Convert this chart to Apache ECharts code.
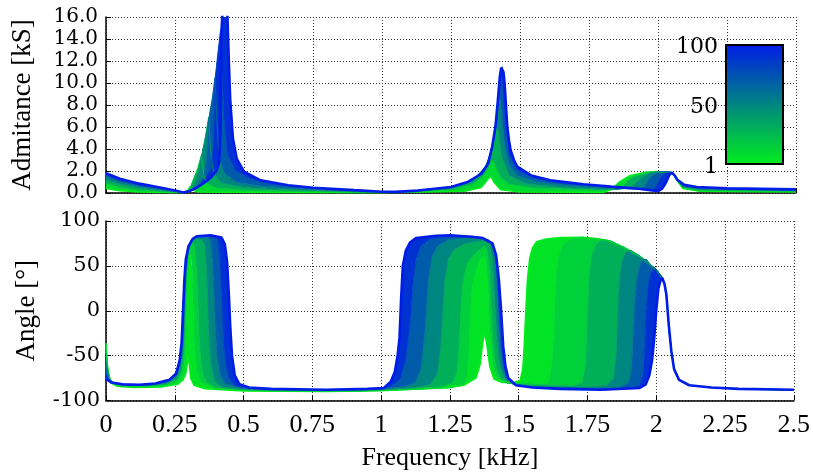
<!DOCTYPE html>
<html><head><meta charset="utf-8">
<script src="https://cdn.jsdelivr.net/npm/echarts@6/dist/echarts.min.js"></script>
<style>html,body{margin:0;padding:0;background:#fff}#c{width:813px;height:475px}</style>
</head><body><div id="c"></div>
<script>
// colour index of the representative curves (1 = green ... 100 = blue)
const admCurveK = [1, 20, 40, 60, 80, 100];
const angCurveK = [1, 10, 20, 40, 60, 80, 100];

// Admittance [kS] vs frequency [kHz]
const admK1 = [[0,0.4],[0.05,0.2],[0.12,0.1],[0.2,0.05],[0.28,0.02],[0.295,0.2],[0.305,0.6],[0.312,0.3],[0.33,0.1],[0.4,0.07],[0.6,0.05],[1.0,0.03],[1.3,0.15],[1.36,0.5],[1.385,1.3],[1.395,1.5],[1.405,1.0],[1.43,0.3],[1.5,0.1],[1.8,0.05],[1.83,0.3],[1.86,1.0],[1.9,1.6],[1.96,1.9],[2.0,1.95],[2.04,1.9],[2.055,1.8],[2.07,1.1],[2.09,0.4],[2.15,0.15],[2.5,0.1]];
const admK20 = [[0,0.9],[0.05,0.5],[0.12,0.25],[0.2,0.12],[0.28,0.04],[0.30,0.3],[0.305,0.5],[0.32,1.45],[0.333,2.3],[0.345,3.4],[0.35,2.4],[0.357,1.3],[0.37,0.8],[0.4,0.45],[0.5,0.25],[0.7,0.15],[0.95,0.06],[1.1,0.1],[1.25,0.3],[1.33,0.8],[1.37,1.6],[1.39,2.5],[1.40,3.0],[1.41,2.5],[1.43,1.4],[1.46,0.8],[1.55,0.45],[1.8,0.25],[1.87,0.6],[1.91,1.5],[1.96,1.85],[2.0,1.95],[2.05,1.88],[2.07,1.15],[2.09,0.5],[2.15,0.25],[2.5,0.15]];
const admK40 = [[0,1.2],[0.05,0.8],[0.12,0.45],[0.2,0.22],[0.28,0.05],[0.30,0.15],[0.32,0.8],[0.335,2.0],[0.345,3.25],[0.36,5.1],[0.372,6.9],[0.377,4.6],[0.385,2.4],[0.40,1.4],[0.42,0.9],[0.5,0.5],[0.6,0.33],[0.75,0.22],[0.95,0.08],[1.1,0.12],[1.25,0.4],[1.33,1.0],[1.37,2.0],[1.395,3.8],[1.408,5.6],[1.415,6.5],[1.422,5.5],[1.435,3.2],[1.46,1.6],[1.52,0.85],[1.65,0.5],[1.85,0.3],[1.9,0.5],[1.935,1.3],[1.97,1.85],[2.0,1.95],[2.05,1.88],[2.07,1.15],[2.09,0.55],[2.15,0.3],[2.5,0.2]];
const admK60 = [[0,1.45],[0.05,1.0],[0.12,0.6],[0.2,0.32],[0.28,0.06],[0.30,0.12],[0.33,0.6],[0.355,1.6],[0.365,3.0],[0.372,6.7],[0.385,8.6],[0.395,10.5],[0.40,7.5],[0.407,4.2],[0.418,2.5],[0.43,1.8],[0.47,1.0],[0.55,0.65],[0.7,0.38],[0.85,0.22],[1.0,0.08],[1.1,0.15],[1.25,0.48],[1.33,1.2],[1.38,2.5],[1.40,4.2],[1.413,6.5],[1.425,9.0],[1.432,7.5],[1.442,4.8],[1.46,2.6],[1.49,1.6],[1.56,1.0],[1.7,0.62],[1.85,0.42],[1.93,0.35],[1.95,0.6],[1.97,1.4],[1.995,1.9],[2.03,1.95],[2.05,1.88],[2.07,1.18],[2.09,0.6],[2.15,0.38],[2.5,0.27]];
const admK80 = [[0,1.65],[0.05,1.2],[0.12,0.75],[0.2,0.42],[0.28,0.07],[0.30,0.12],[0.33,0.55],[0.36,1.35],[0.38,2.2],[0.39,4.5],[0.395,10.3],[0.405,12.6],[0.415,14.8],[0.42,11],[0.428,6.5],[0.44,3.5],[0.47,2.0],[0.52,1.3],[0.6,0.85],[0.7,0.58],[0.85,0.32],[1.0,0.1],[1.1,0.18],[1.25,0.55],[1.32,1.05],[1.37,2.0],[1.40,4.0],[1.415,6.5],[1.425,9.5],[1.43,10.8],[1.437,9.5],[1.447,6.0],[1.46,3.6],[1.49,2.1],[1.55,1.35],[1.65,0.9],[1.8,0.6],[1.93,0.4],[1.98,0.35],[1.995,0.7],[2.01,1.5],[2.03,1.92],[2.05,1.86],[2.07,1.2],[2.09,0.7],[2.15,0.48],[2.5,0.32]];
const admK100 = [[0,1.8],[0.05,1.3],[0.12,0.85],[0.2,0.48],[0.25,0.22],[0.28,0.05],[0.30,0.15],[0.33,0.5],[0.36,1.0],[0.38,1.4],[0.40,2.0],[0.41,2.8],[0.415,5.5],[0.418,14.6],[0.425,17.5],[0.435,20],[0.44,16],[0.445,12],[0.45,8.5],[0.46,4.9],[0.474,3.1],[0.5,1.95],[0.56,1.15],[0.66,0.7],[0.75,0.48],[0.9,0.26],[1.0,0.12],[1.05,0.1],[1.13,0.22],[1.25,0.55],[1.31,1.0],[1.36,1.75],[1.385,2.7],[1.399,4.2],[1.411,6],[1.42,8.5],[1.427,10.6],[1.432,11.4],[1.436,11.55],[1.44,11.0],[1.444,10],[1.449,8],[1.454,6],[1.46,4.8],[1.466,3.9],[1.478,3.0],[1.49,2.4],[1.54,1.6],[1.61,1.15],[1.73,0.8],[1.83,0.58],[1.93,0.38],[2.0,0.16],[2.015,0.4],[2.028,0.9],[2.04,1.6],[2.05,1.85],[2.06,1.6],[2.07,1.2],[2.095,0.75],[2.14,0.55],[2.25,0.42],[2.5,0.33]];

// Angle [deg] vs frequency [kHz]
const angK1 = [[0,-36],[0.005,-60],[0.015,-80],[0.04,-84],[0.1,-85.5],[0.2,-85],[0.26,-82],[0.28,-77],[0.29,-70],[0.296,-58],[0.299,-50],[0.302,-58],[0.308,-75],[0.32,-83],[0.36,-87],[0.5,-89.5],[0.8,-90],[1.0,-89],[1.2,-86],[1.3,-83],[1.345,-75],[1.36,-60],[1.37,-35],[1.376,-25],[1.383,-35],[1.395,-62],[1.41,-76],[1.44,-80],[1.48,-80],[1.505,-78],[1.515,-65],[1.52,-40],[1.526,0],[1.532,35],[1.54,58],[1.55,70],[1.565,77],[1.6,80],[1.65,81.5],[1.73,82],[1.78,80.5],[1.83,78],[1.88,71],[1.94,61],[1.98,51],[2.0,46],[2.022,37],[2.03,30],[2.037,18],[2.046,-17],[2.055,-45],[2.065,-65],[2.083,-77],[2.12,-83],[2.2,-85.5],[2.3,-87],[2.5,-88.5]];
const angK10 = [[0,-40],[0.006,-65],[0.018,-80],[0.05,-84],[0.12,-85],[0.2,-84.5],[0.26,-80],[0.278,-72],[0.286,-58],[0.29,-30],[0.293,10],[0.297,45],[0.302,60],[0.308,62],[0.313,45],[0.317,0],[0.321,-40],[0.33,-68],[0.345,-80],[0.4,-87],[0.6,-89.5],[0.9,-89.8],[1.1,-88],[1.25,-86],[1.3,-83],[1.312,-74],[1.32,-45],[1.325,0],[1.332,28],[1.345,45],[1.36,56],[1.372,62],[1.38,57],[1.387,30],[1.392,0],[1.398,-35],[1.407,-60],[1.42,-74],[1.45,-80],[1.5,-80.5],[1.6,-82],[1.61,-78],[1.622,-55],[1.63,0],[1.636,40],[1.645,62],[1.66,74],[1.69,80],[1.73,82],[1.78,80.5],[1.83,78],[1.88,71],[1.94,61],[1.98,51],[2.0,46],[2.022,37],[2.03,30],[2.037,18],[2.046,-17],[2.055,-45],[2.065,-65],[2.083,-77],[2.12,-83],[2.2,-85.5],[2.3,-87],[2.5,-88.4]];
const angK20 = [[0,-45],[0.008,-70],[0.02,-80],[0.06,-83.5],[0.15,-84],[0.22,-82],[0.26,-77],[0.275,-68],[0.282,-55],[0.286,-40],[0.289,0],[0.293,45],[0.30,68],[0.31,76],[0.322,72],[0.33,40],[0.335,0],[0.34,-40],[0.35,-68],[0.365,-80],[0.4,-86],[0.6,-89],[0.9,-89.5],[1.1,-87],[1.22,-85],[1.262,-80],[1.277,-68],[1.285,-35],[1.29,0],[1.297,30],[1.31,50],[1.33,60],[1.355,67],[1.375,72],[1.385,68],[1.393,45],[1.40,0],[1.406,-35],[1.415,-60],[1.43,-74],[1.46,-81],[1.55,-82],[1.7,-83],[1.73,-80],[1.742,-60],[1.75,0],[1.756,40],[1.765,62],[1.78,74],[1.8,79],[1.83,78],[1.88,71],[1.94,61],[1.98,51],[2.0,46],[2.022,37],[2.03,30],[2.037,18],[2.046,-17],[2.055,-45],[2.065,-65],[2.083,-77],[2.12,-83],[2.2,-85.5],[2.3,-87],[2.5,-88.3]];
const angK40 = [[0,-55],[0.01,-75],[0.03,-81],[0.08,-83],[0.15,-83.5],[0.22,-81],[0.255,-75],[0.27,-65],[0.28,-45],[0.284,-20],[0.287,10],[0.292,45],[0.30,68],[0.315,78],[0.33,80],[0.35,79],[0.36,72],[0.366,40],[0.37,0],[0.375,-35],[0.382,-62],[0.395,-78],[0.42,-85],[0.5,-88],[0.8,-89],[1.0,-88],[1.12,-86],[1.18,-82],[1.205,-70],[1.217,-40],[1.225,0],[1.232,35],[1.245,58],[1.265,68],[1.3,74],[1.34,77],[1.37,78],[1.395,74],[1.405,55],[1.415,0],[1.422,-38],[1.432,-62],[1.45,-76],[1.48,-82],[1.55,-84],[1.75,-85],[1.82,-83],[1.845,-75],[1.855,-45],[1.86,0],[1.866,35],[1.875,55],[1.89,66],[1.91,67],[1.94,61],[1.98,51],[2.0,46],[2.022,37],[2.03,30],[2.037,18],[2.046,-17],[2.055,-45],[2.065,-65],[2.083,-77],[2.12,-83],[2.2,-85.5],[2.3,-87],[2.5,-88.2]];
const angK60 = [[0,-62],[0.01,-76],[0.03,-81],[0.08,-82.5],[0.15,-83],[0.22,-80],[0.255,-73],[0.268,-62],[0.278,-40],[0.282,-15],[0.285,10],[0.29,45],[0.298,66],[0.312,78],[0.33,82],[0.37,82],[0.38,78],[0.387,55],[0.393,15],[0.397,-20],[0.404,-52],[0.415,-72],[0.435,-82],[0.5,-87],[0.8,-88.5],[1.0,-87.5],[1.08,-85],[1.125,-80],[1.145,-65],[1.158,-30],[1.165,0],[1.172,35],[1.185,60],[1.205,72],[1.245,79],[1.3,81.5],[1.38,80],[1.405,75],[1.415,60],[1.42,35],[1.425,0],[1.432,-38],[1.44,-60],[1.455,-74],[1.485,-82],[1.55,-85],[1.8,-86.5],[1.87,-85],[1.9,-80],[1.91,-65],[1.915,-35],[1.92,0],[1.927,30],[1.937,48],[1.95,57],[1.965,57],[1.98,51],[2.0,46],[2.022,37],[2.03,30],[2.037,18],[2.046,-17],[2.055,-45],[2.065,-65],[2.083,-77],[2.12,-83],[2.2,-85.5],[2.3,-87],[2.5,-88]];
const angK80 = [[0,-70],[0.015,-79],[0.04,-81.5],[0.1,-82.5],[0.16,-82],[0.22,-79],[0.25,-72],[0.265,-60],[0.275,-38],[0.28,-10],[0.284,20],[0.289,50],[0.297,68],[0.31,79],[0.33,83],[0.39,83],[0.405,79],[0.412,62],[0.418,25],[0.422,0],[0.427,-35],[0.436,-62],[0.448,-76],[0.47,-84],[0.55,-87],[0.8,-88],[1.0,-87],[1.04,-84],[1.07,-76],[1.09,-55],[1.102,-25],[1.11,0],[1.116,30],[1.128,58],[1.145,72],[1.18,80],[1.25,83],[1.35,82],[1.39,79],[1.41,70],[1.42,50],[1.43,0],[1.437,-38],[1.446,-62],[1.458,-75],[1.488,-83],[1.55,-85.5],[1.8,-87.5],[1.92,-86],[1.94,-82],[1.952,-70],[1.958,-40],[1.963,0],[1.97,28],[1.98,42],[1.99,46],[2.0,46],[2.022,37],[2.03,30],[2.037,18],[2.046,-17],[2.055,-45],[2.065,-65],[2.083,-77],[2.12,-83],[2.2,-85.5],[2.3,-87],[2.5,-88]];
const angK100 = [[0,-76],[0.02,-80],[0.06,-82],[0.12,-82.5],[0.18,-81],[0.23,-77],[0.255,-70],[0.268,-55],[0.275,-35],[0.28,0],[0.285,35],[0.29,57],[0.30,72],[0.315,80],[0.33,83],[0.38,84],[0.42,81.5],[0.432,74],[0.44,55],[0.447,15],[0.452,-20],[0.458,-50],[0.468,-72],[0.485,-82],[0.52,-85.5],[0.6,-87],[0.8,-88],[0.95,-87],[1.01,-86],[1.035,-79],[1.05,-68],[1.06,-50],[1.067,-30],[1.073,15],[1.079,50],[1.09,67],[1.105,76],[1.127,81],[1.2,83.5],[1.25,84],[1.33,82.5],[1.37,81],[1.405,75],[1.418,62],[1.428,35],[1.436,1],[1.444,-40],[1.452,-62],[1.462,-75],[1.49,-83],[1.55,-85.5],[1.65,-87],[1.8,-88],[1.94,-86],[1.962,-82],[1.975,-72],[1.985,-55],[1.993,-30],[2.0,0],[2.008,25],[2.015,33],[2.022,36.5],[2.03,30],[2.037,18],[2.046,-17],[2.055,-45],[2.065,-65],[2.083,-77],[2.12,-83],[2.2,-85.5],[2.3,-87],[2.5,-88]];

const colorbarLabels = ['100', '50', '1'];

const admCurves = [admK1, admK20, admK40, admK60, admK80, admK100];
const angCurves = [angK1, angK10, angK20, angK40, angK60, angK80, angK100];

const GREEN = [0, 238, 28], BLUE = [0, 28, 232];
function kColor(k) {
  const t = (k - 1) / 99;
  const c = GREEN.map((g, i) => Math.round(g + (BLUE[i] - g) * t));
  return 'rgb(' + c.join(',') + ')';
}

function bandSeries(curves, ks, idx) {
  return {
    type: 'custom', xAxisIndex: idx, yAxisIndex: idx, clip: true, silent: true, z: 2,
    data: curves.slice(1).map((c, i) => [i, 0]),
    renderItem: function (params, api) {
      const i = params.dataIndex;
      const A = curves[i], B = curves[i + 1];
      const pts = A.map(p => api.coord(p)).concat(B.slice().reverse().map(p => api.coord(p)));
      return { type: 'polygon', shape: { points: pts },
        style: { fill: kColor((ks[i] + ks[i + 1]) / 2), stroke: null } };
    }
  };
}
function lineSeries(curves, ks, idx) {
  return curves.map((c, i) => ({
    type: 'line', xAxisIndex: idx, yAxisIndex: idx, data: c, showSymbol: false, symbol: 'none',
    silent: true, z: 3, clip: true,
    lineStyle: { color: kColor(ks[i]), width: i === curves.length - 1 ? 2.6 : (i === 0 ? 1.5 : 1) }
  }));
}

const gridLine = { show: true, lineStyle: { color: '#333', width: 1, type: [1, 2] } };
const axLine = { show: true, onZero: false, lineStyle: { color: '#000', width: 1.5 } };
const axTick = { show: true, inside: true, length: 5, lineStyle: { color: '#000', width: 1 } };

const chart = echarts.init(document.getElementById('c'), null, { renderer: 'canvas' });
chart.setOption({
  animation: false,
  backgroundColor: '#fff',
  grid: [
    { left: 106, right: 17, top: 17, height: 176 },
    { left: 106, right: 17, top: 221, height: 179.5 }
  ],
  xAxis: [
    { gridIndex: 0, type: 'value', min: 0, max: 2.5, interval: 0.25,
      axisLabel: { show: false }, axisLine: axLine, axisTick: axTick, splitLine: gridLine },
    { gridIndex: 1, type: 'value', min: 0, max: 2.5, interval: 0.25,
      axisLabel: { color: '#000', fontFamily: 'Liberation Serif', fontSize: 26, margin: 12 },
      axisLine: axLine, axisTick: axTick, splitLine: gridLine,
      name: 'Frequency [kHz]', nameLocation: 'middle', nameGap: 45,
      nameTextStyle: { color: '#000', fontFamily: 'Liberation Serif', fontSize: 26 } }
  ],
  yAxis: [
    { gridIndex: 0, type: 'value', min: 0, max: 16, interval: 2,
      axisLabel: { color: '#000', fontFamily: 'DejaVu Serif', fontSize: 20, margin: 8,
        formatter: v => v.toFixed(1) },
      axisLine: axLine, axisTick: axTick, splitLine: gridLine,
      name: 'Admitance [kS]', nameLocation: 'middle', nameGap: 70,
      nameTextStyle: { color: '#000', fontFamily: 'Liberation Serif', fontSize: 27 } },
    { gridIndex: 1, type: 'value', min: -100, max: 100, interval: 50,
      axisLabel: { color: '#000', fontFamily: 'DejaVu Serif', fontSize: 21, margin: 6 },
      axisLine: axLine, axisTick: axTick, splitLine: gridLine,
      name: 'Angle [°]', nameLocation: 'middle', nameGap: 66,
      nameTextStyle: { color: '#000', fontFamily: 'Liberation Serif', fontSize: 27 } }
  ],
  graphic: [
    { type: 'rect', z: 100, shape: { x: 726, y: 45, width: 57, height: 119 },
      style: { fill: new echarts.graphic.LinearGradient(0, 0, 0, 1, [
        { offset: 0, color: kColor(100) }, { offset: 0.5, color: kColor(50) }, { offset: 1, color: kColor(1) }]),
        stroke: '#000', lineWidth: 2 } },
    { type: 'text', z: 100, x: 718, y: 47, style: { text: colorbarLabels[0], align: 'right', verticalAlign: 'middle', fontFamily: 'DejaVu Serif', fontSize: 22, fill: '#000' } },
    { type: 'text', z: 100, x: 718, y: 107, style: { text: colorbarLabels[1], align: 'right', verticalAlign: 'middle', fontFamily: 'DejaVu Serif', fontSize: 22, fill: '#000' } },
    { type: 'text', z: 100, x: 718, y: 167, style: { text: colorbarLabels[2], align: 'right', verticalAlign: 'middle', fontFamily: 'DejaVu Serif', fontSize: 22, fill: '#000' } }
  ],
  series: [bandSeries(admCurves, admCurveK, 0), ...lineSeries(admCurves, admCurveK, 0),
           bandSeries(angCurves, angCurveK, 1), ...lineSeries(angCurves, angCurveK, 1)]
});
</script></body></html>
